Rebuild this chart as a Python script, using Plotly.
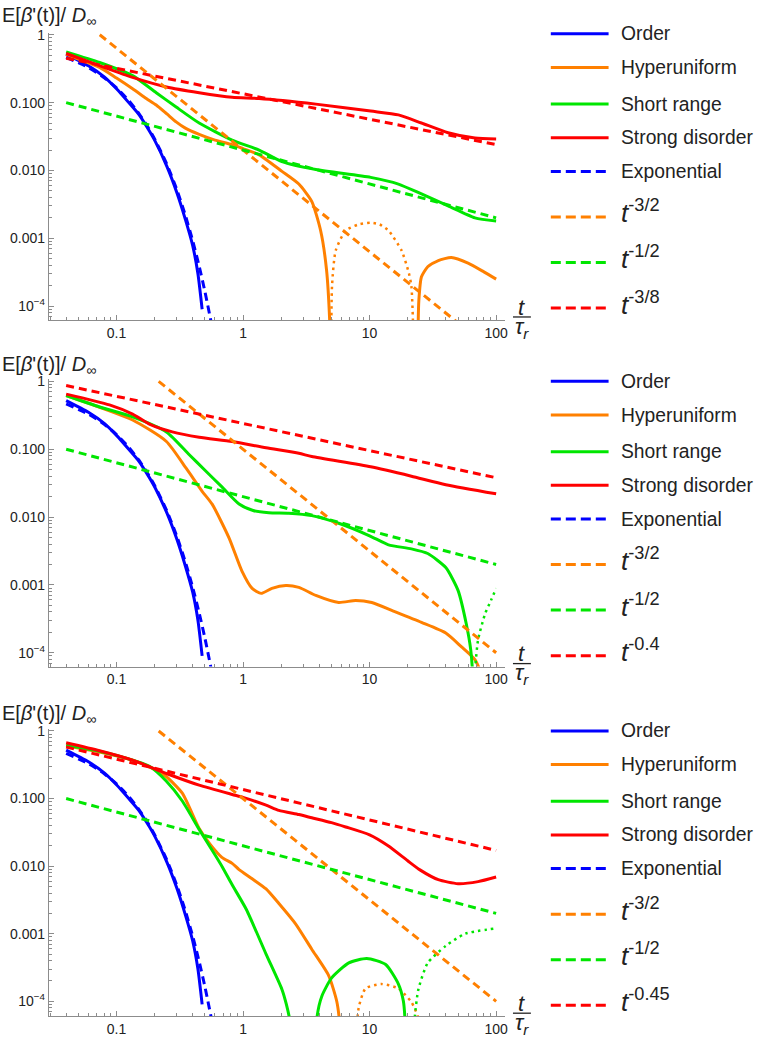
import plotly.graph_objects as go

W, H = 757, 1037

# ------------------------------------------------------------------ data
# Blue curves (identical in the three panels)
order_t = [0.04, 0.06, 0.08, 0.1, 0.125, 0.15, 0.175, 0.2, 0.25, 0.3, 0.35, 0.4, 0.44, 0.475]
order_y = [0.52, 0.35, 0.24, 0.16, 0.10, 0.067, 0.043, 0.028, 0.0115, 0.0047, 0.0019, 0.00078, 0.0003, 0.00009]
expo_t = [0.04, 0.06, 0.08, 0.1, 0.125, 0.15, 0.175, 0.2, 0.25, 0.3, 0.35, 0.4, 0.45, 0.5, 0.56]
expo_y = [0.466, 0.329, 0.233, 0.165, 0.107, 0.0694, 0.045, 0.0292, 0.0123, 0.00518,
          0.00218, 0.000919, 0.000387, 0.000163, 0.0000577]

# ---- Panel 1
p1_hyp_t = [0.04, 0.0735, 0.1, 0.134, 0.172, 0.206, 0.25, 0.296, 0.35, 0.45, 0.6, 0.82, 1.0,
            1.34, 2.03, 2.76, 3.49, 4.1, 4.57, 4.84, 4.95]
p1_hyp_y = [0.51, 0.33, 0.23, 0.16, 0.115, 0.092, 0.068, 0.052, 0.042, 0.034, 0.028, 0.024, 0.021,
            0.017, 0.0097, 0.0063, 0.0035, 0.0013, 0.00034, 0.00006, 0.00001]
p1_hyp_neg_t = [4.97, 5.05, 5.4, 6.47, 8.2, 10.2, 12.0, 14.1, 17.9, 20.5, 21.4, 22.4]
p1_hyp_neg_y = [0.00001, 0.0002, 0.00066, 0.0013, 0.0016, 0.0017, 0.0016, 0.0013, 0.00066, 0.0003, 0.000195, 0.00002]
p1_hyp2_t = [24.0, 24.5, 25.7, 28.8, 34.9, 44.3, 60.0, 80.0, 100.0]
p1_hyp2_y = [0.00002, 0.00012, 0.00027, 0.00038, 0.00047, 0.00052, 0.00043, 0.00032, 0.00025]
p1_sr_t = [0.04, 0.0735, 0.134, 0.206, 0.296, 0.45, 0.82, 1.34, 2.03, 3.76, 10.2, 16.9, 25.7, 41.7, 68.0, 100.0]
p1_sr_y = [0.56, 0.39, 0.25, 0.14, 0.086, 0.05, 0.028, 0.02, 0.0135, 0.0103, 0.0079, 0.0063, 0.0045, 0.003, 0.002, 0.0018]
p1_sd_t = [0.04, 0.0735, 0.134, 0.248, 0.45, 0.82, 1.34, 3.76, 10.2, 16.9, 25.7, 41.7, 68.0, 100.0]
p1_sd_y = [0.53, 0.35, 0.235, 0.17, 0.14, 0.12, 0.115, 0.095, 0.075, 0.066, 0.05, 0.036, 0.030, 0.029]
p1_g_orange_t, p1_g_orange_y = [0.0737, 100.0], [1.0, 0.00002]
p1_g_green_t, p1_g_green_y = [0.04, 100.0], [0.1, 0.002]
p1_g_red_t, p1_g_red_y = [0.04, 100.0], [0.451, 0.024]

# ---- Panel 2
p2_hyp_t = [0.04, 0.134, 0.248, 0.356, 0.475, 0.57, 0.776, 0.98, 1.18, 1.39, 1.69, 2.18, 2.76,
            3.76, 5.7, 7.76, 10.4, 16.0, 25.7, 40.0, 53.0, 68.0, 80.0]
p2_hyp_y = [0.62, 0.27, 0.13, 0.052, 0.024, 0.0155, 0.0049, 0.0016, 0.00089, 0.00075, 0.00089, 0.00098, 0.00092,
            0.0007, 0.00055, 0.00059, 0.00055, 0.0004, 0.00028, 0.000195, 0.000123, 0.000079, 0.00004]
p2_sr_t = [0.04, 0.0735, 0.134, 0.248, 0.376, 0.5, 0.684, 0.93, 1.2, 1.6, 2.3, 3.49, 5.7, 10.0, 14.1, 21.4,
           28.8, 40.0, 50.0, 58.0, 63.0, 66.0, 66.5]
p2_sr_y = [0.62, 0.42, 0.30, 0.18, 0.083, 0.049, 0.0276, 0.0156, 0.0125, 0.0116, 0.0114, 0.0105, 0.0081, 0.0053,
           0.0039, 0.0034, 0.0029, 0.0018, 0.00083, 0.00027, 0.00011, 0.00003, 0.000005]
p2_sr_neg_t = [67.0, 68.5, 72.0, 82.0, 91.0, 100.0]
p2_sr_neg_y = [0.000005, 0.00006, 0.000155, 0.00038, 0.00059, 0.00089]
p2_sd_t = [0.04, 0.088, 0.134, 0.182, 0.276, 0.45, 0.82, 1.52, 2.76, 3.49, 10.2, 21.4, 40.0, 100.0]
p2_sd_y = [0.65, 0.45, 0.33, 0.235, 0.18, 0.15, 0.13, 0.105, 0.087, 0.078, 0.055, 0.04, 0.030, 0.022]
p2_g_orange_t, p2_g_orange_y = [0.2154, 100.0], [1.0, 0.0001]
p2_g_green_t, p2_g_green_y = [0.04, 100.0], [0.1, 0.002]
p2_g_red_t, p2_g_red_y = [0.04, 100.0], [0.87, 0.038]

# ---- Panel 3
p3_hyp_t = [0.04, 0.0735, 0.134, 0.2, 0.248, 0.331, 0.45, 0.55, 0.68, 0.82, 0.93, 1.18, 1.52, 1.92,
            2.6, 3.49, 4.75, 5.5, 5.85, 6.0]
p3_hyp_y = [0.6, 0.49, 0.37, 0.27, 0.21, 0.12, 0.036, 0.021, 0.0135, 0.011, 0.0089, 0.0065, 0.0046, 0.0028,
            0.0014, 0.00059, 0.00024, 0.0001, 0.00004, 0.00001]
p3_hyp_neg_t = [7.6, 8.2, 9.3, 12.4, 16.9, 21.4, 24.0, 26.5]
p3_hyp_neg_y = [0.00001, 0.00008, 0.000155, 0.00018, 0.000155, 0.000097, 0.00006, 0.00001]
p3_sr_t = [0.04, 0.0735, 0.134, 0.182, 0.248, 0.331, 0.45, 0.61, 0.684, 0.82, 1.06, 1.52, 2.03, 2.2, 2.35, 2.42]
p3_sr_y = [0.62, 0.5, 0.37, 0.30, 0.18, 0.092, 0.035, 0.014, 0.0098, 0.0053, 0.0023, 0.0005, 0.00015,
           0.00009, 0.00005, 0.00001]
p3_sr2_t = [3.7, 3.85, 4.2, 5.0, 6.85, 9.5, 13.4, 16.9, 18.5, 19.2, 19.4]
p3_sr2_y = [0.00001, 0.00006, 0.00012, 0.00022, 0.00037, 0.00043, 0.00035, 0.00018, 0.0001, 0.00004, 0.00001]
p3_sr_neg_t = [22.0, 22.8, 24.3, 28.8, 40.0, 57.0, 100.0]
p3_sr_neg_y = [0.00001, 0.00006, 0.00015, 0.00037, 0.00066, 0.001, 0.0012]
p3_sd_t = [0.04, 0.0735, 0.134, 0.248, 0.45, 0.82, 1.0, 1.52, 1.92, 2.76, 3.49, 5.0, 6.47, 10.0, 14.0, 20.0,
           25.0, 34.9, 50.0, 72.0, 100.0]
p3_sd_y = [0.67, 0.51, 0.37, 0.235, 0.158, 0.115, 0.104, 0.08, 0.067, 0.058, 0.052, 0.044, 0.038, 0.029, 0.02,
           0.012, 0.0088, 0.0063, 0.0055, 0.0059, 0.0069]
p3_g_orange_t, p3_g_orange_y = [0.2154, 100.0], [1.0, 0.0001]
p3_g_green_t, p3_g_green_y = [0.04, 100.0], [0.1, 0.002]
p3_g_red_t, p3_g_red_y = [0.04, 100.0], [0.579, 0.0171]

# legends / ticks
legend_names = ["Order", "Hyperuniform", "Short range", "Strong disorder", "Exponential"]
power_labels = [["-3/2", "-1/2", "-3/8"], ["-3/2", "-1/2", "-0.4"], ["-3/2", "-1/2", "-0.45"]]
x_tickvals = [0.1, 1, 10, 100]
x_ticktext = ["0.1", "1", "10", "100"]
y_tickvals = [1e-4, 1e-3, 1e-2, 1e-1, 1]
y_ticktext = ["10<sup>\u22124</sup>", "0.001", "0.010", "0.100", "1"]

# ------------------------------------------------------------------ styling
BLUE, ORANGE, GREEN, RED = "#0000ff", "#ff8000", "#00e600", "#ff0000"
FONT = "Liberation Sans, Arial, sans-serif"
SOLID_W = 3
DASH = "8px,5px"
DOT = "2.5px,4px"
AXC = "#8c8c8c"

def py2p(py):
    return 1 - py / H

def px2p(px):
    return px / W

panel_top = [27, 377, 730]
panel_bot = [317, 667, 1020]
y_ranges = [[-4.204, 0.03], [-4.204, 0.03], [-4.22, 0.03]]
x_range = [-1.535, 2.07]
x_dom = [px2p(49), px2p(507)]

fig = go.Figure()

def add(x, y, color, i, dash="solid", width=SOLID_W):
    fig.add_trace(go.Scatter(
        x=x, y=y, mode="lines", showlegend=False, hoverinfo="skip",
        line=dict(color=color, width=width, dash=dash, shape="spline", smoothing=0.6),
        xaxis="x" if i == 1 else f"x{i}", yaxis="y" if i == 1 else f"y{i}"))

# panel 1
add(order_t, order_y, BLUE, 1)
add(p1_hyp_t, p1_hyp_y, ORANGE, 1)
add(p1_hyp_neg_t, p1_hyp_neg_y, ORANGE, 1, DOT, 2.5)
add(p1_hyp2_t, p1_hyp2_y, ORANGE, 1)
add(p1_sr_t, p1_sr_y, GREEN, 1)
add(p1_sd_t, p1_sd_y, RED, 1)
add(expo_t, expo_y, BLUE, 1, DASH)
add(p1_g_orange_t, p1_g_orange_y, ORANGE, 1, DASH)
add(p1_g_green_t, p1_g_green_y, GREEN, 1, DASH)
add(p1_g_red_t, p1_g_red_y, RED, 1, DASH)
# panel 2
add(order_t, order_y, BLUE, 2)
add(p2_hyp_t, p2_hyp_y, ORANGE, 2)
add(p2_sr_t, p2_sr_y, GREEN, 2)
add(p2_sr_neg_t, p2_sr_neg_y, GREEN, 2, DOT, 2.5)
add(p2_sd_t, p2_sd_y, RED, 2)
add(expo_t, expo_y, BLUE, 2, DASH)
add(p2_g_orange_t, p2_g_orange_y, ORANGE, 2, DASH)
add(p2_g_green_t, p2_g_green_y, GREEN, 2, DASH)
add(p2_g_red_t, p2_g_red_y, RED, 2, DASH)
# panel 3
add(order_t, order_y, BLUE, 3)
add(p3_hyp_t, p3_hyp_y, ORANGE, 3)
add(p3_hyp_neg_t, p3_hyp_neg_y, ORANGE, 3, DOT, 2.5)
add(p3_sr_t, p3_sr_y, GREEN, 3)
add(p3_sr2_t, p3_sr2_y, GREEN, 3)
add(p3_sr_neg_t, p3_sr_neg_y, GREEN, 3, DOT, 2.5)
add(p3_sd_t, p3_sd_y, RED, 3)
add(expo_t, expo_y, BLUE, 3, DASH)
add(p3_g_orange_t, p3_g_orange_y, ORANGE, 3, DASH)
add(p3_g_green_t, p3_g_green_y, GREEN, 3, DASH)
add(p3_g_red_t, p3_g_red_y, RED, 3, DASH)

layout = dict(
    width=W, height=H, margin=dict(l=0, r=0, t=0, b=0),
    paper_bgcolor="white", plot_bgcolor="white",
    font=dict(family=FONT, size=14, color="#222"),
)
annotations = []
shapes = []
for i in range(3):
    k = "" if i == 0 else str(i + 1)
    layout["xaxis" + k] = dict(
        type="log", range=x_range, domain=x_dom, anchor="y" + k,
        showline=True, linecolor=AXC, linewidth=1, showgrid=False, zeroline=False,
        ticks="inside", ticklen=5, tickcolor=AXC, tickwidth=1,
        tickvals=x_tickvals, ticktext=x_ticktext, tickfont=dict(size=14, color="#222"),
        minor=dict(ticks="inside", ticklen=3, tickcolor=AXC, dtick="D1", showgrid=False),
    )
    layout["yaxis" + k] = dict(
        type="log", range=y_ranges[i], domain=[py2p(panel_bot[i]), py2p(panel_top[i])], anchor="x" + k,
        showline=True, linecolor=AXC, linewidth=1, showgrid=False, zeroline=False,
        ticks="inside", ticklen=5, tickcolor=AXC, tickwidth=1,
        tickvals=y_tickvals, ticktext=y_ticktext, tickfont=dict(size=14, color="#222"),
        minor=dict(ticks="inside", ticklen=3, tickcolor=AXC, dtick="D1", showgrid=False),
    )
    off = [0, 351, 704][i]
    toff = [0, 350, 703][i]
    # y-axis title
    annotations.append(dict(
        text="E[<i>\u03b2</i>'(t)]/ <i>D</i><sub>\u221e</sub>", x=0, y=py2p(11 + [0, 352, 704][i]),
        xref="paper", yref="paper", xanchor="left", yanchor="middle", showarrow=False,
        font=dict(size=20, color="#222", family=FONT)))
    # x-axis title (fraction t / tau_r)
    annotations.append(dict(
        text="<i>t</i>", x=px2p(524), y=py2p(304 + toff), xref="paper", yref="paper",
        xanchor="center", yanchor="middle", showarrow=False, font=dict(size=22, color="#222", family=FONT)))
    annotations.append(dict(
        text="<i>\u03c4<sub>r</sub></i>", x=px2p(524), y=py2p(325 + toff), xref="paper", yref="paper",
        xanchor="center", yanchor="middle", showarrow=False, font=dict(size=22, color="#222", family=FONT)))
    shapes.append(dict(type="line", xref="paper", yref="paper", x0=px2p(515), x1=px2p(533),
                       y0=py2p(314 + toff), y1=py2p(314 + toff), line=dict(color="#222", width=1.3)))
    # legend
    entries = [(legend_names[j], [BLUE, ORANGE, GREEN, RED, BLUE][j], "solid" if j < 4 else "10px,5px", False)
               for j in range(5)]
    entries += [(f"<i>t</i><sup>{p}</sup>", c, "10px,5px", True)
                for p, c in zip(power_labels[i], [ORANGE, GREEN, RED])]
    ys = [28, 62, 99, 133, 167, 213, 259, 305]
    for (name, c, d, big), yy in zip(entries, ys):
        yl = yy + off
        shapes.append(dict(type="line", xref="paper", yref="paper", x0=px2p(553), x1=px2p(611),
                           y0=py2p(yl), y1=py2p(yl), line=dict(color=c, width=3, dash=d)))
        if big:
            annotations.append(dict(text=name, x=px2p(621), y=py2p(yl - 5), xref="paper", yref="paper",
                                    xanchor="left", yanchor="middle", showarrow=False,
                                    font=dict(size=26, color="#222", family=FONT)))
        else:
            annotations.append(dict(text=name, x=px2p(621), y=py2p(yl), xref="paper", yref="paper",
                                    xanchor="left", yanchor="middle", showarrow=False,
                                    font=dict(size=19.3, color="#222", family=FONT)))

layout["annotations"] = annotations
layout["shapes"] = shapes
fig.update_layout(**layout)
fig.write_html("out.html")
